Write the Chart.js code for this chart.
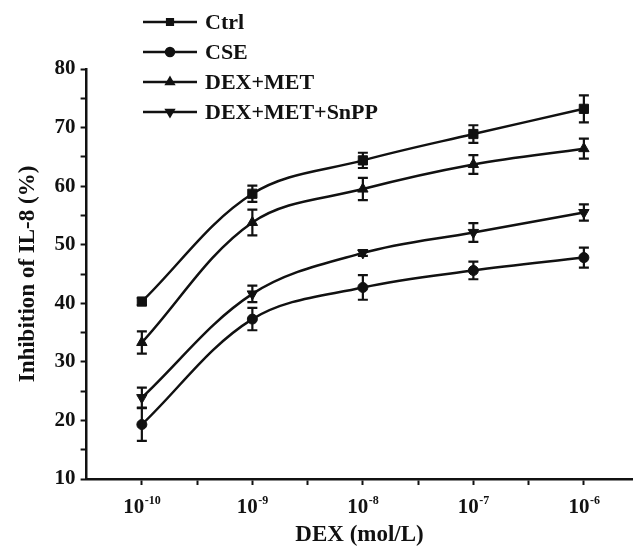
<!DOCTYPE html>
<html>
<head>
<meta charset="utf-8">
<title>Inhibition of IL-8</title>
<script src="https://cdn.jsdelivr.net/npm/chart.js@4.4.0/dist/chart.umd.min.js"></script>
<style>
    html, body { margin: 0; padding: 0; background: #fff; }
    #wrap { width: 640px; height: 547px; position: relative; }
</style>
</head>
<body>
<div id="wrap"><canvas id="il8Chart"></canvas></div>
<script>
// === Data ===
const doseBase = '10';
const doseExponents = ['-10', '-9', '-8', '-7', '-6'];
const seriesNames = ['Ctrl', 'CSE', 'DEX+MET', 'DEX+MET+SnPP'];

const ctrlMean = [40.3, 58.7, 64.4, 68.9, 73.2];
const ctrlErr = [0.6, 1.4, 1.3, 1.5, 2.3];
const cseMean = [19.3, 37.3, 42.7, 45.6, 47.8];
const cseErr = [2.8, 1.9, 2.1, 1.5, 1.7];
const dexMetMean = [33.3, 53.8, 59.5, 63.7, 66.4];
const dexMetErr = [1.9, 2.2, 1.9, 1.6, 1.7];
const snppMean = [23.9, 41.6, 48.6, 52.1, 55.5];
const snppErr = [1.7, 1.4, 0.5, 1.6, 1.4];

const yMin = 10;
const yMax = 80;

// === Styles ===
const inkColor = '#111111';
const serifFont = "'Liberation Serif', 'Times New Roman', serif";

function toPoints(values) {
    return values.map((v, i) => ({ x: i, y: v }));
}

function makeSeries(label, means, errors, pointStyle, rotation, radius) {
    return {
        label: label,
        data: toPoints(means),
        errors: errors,
        borderColor: inkColor,
        backgroundColor: inkColor,
        borderWidth: 2.5,
        tension: 0.35,
        pointStyle: pointStyle,
        pointRotation: rotation,
        pointRadius: radius,
        pointBorderWidth: 1,
        pointBackgroundColor: inkColor,
        pointBorderColor: inkColor,
    };
}

// error bars (mean ± SD) drawn through the y scale
const errorBarPlugin = {
    id: 'errorBars',
    afterDatasetsDraw(chart) {
        const ctx = chart.ctx;
        const yScale = chart.scales.y;
        ctx.save();
        ctx.strokeStyle = inkColor;
        ctx.lineWidth = 2.2;
        chart.data.datasets.forEach((ds, di) => {
            const meta = chart.getDatasetMeta(di);
            meta.data.forEach((pt, i) => {
                const v = ds.data[i].y;
                const e = ds.errors[i];
                const yTop = yScale.getPixelForValue(v + e);
                const yBot = yScale.getPixelForValue(v - e);
                ctx.beginPath();
                ctx.moveTo(pt.x, yTop); ctx.lineTo(pt.x, yBot);
                ctx.moveTo(pt.x - 5, yTop); ctx.lineTo(pt.x + 5, yTop);
                ctx.moveTo(pt.x - 5, yBot); ctx.lineTo(pt.x + 5, yBot);
                ctx.stroke();
            });
        });
        ctx.restore();
    }
};

// x tick labels as 10 with a small raised exponent
const powerLabelPlugin = {
    id: 'powerLabels',
    afterDraw(chart) {
        const ctx = chart.ctx;
        const xScale = chart.scales.x;
        const y = xScale.top + 29;
        ctx.save();
        ctx.fillStyle = inkColor;
        ctx.textBaseline = 'middle';
        ctx.textAlign = 'left';
        doseExponents.forEach((exp, i) => {
            const px = xScale.getPixelForValue(i);
            ctx.font = 'bold 21px ' + serifFont;
            const wBase = ctx.measureText(doseBase).width;
            ctx.font = 'bold 12px ' + serifFont;
            const wExp = ctx.measureText(exp).width;
            const left = px - (wBase + wExp) / 2;
            ctx.font = 'bold 21px ' + serifFont;
            ctx.fillText(doseBase, left, y);
            ctx.font = 'bold 12px ' + serifFont;
            ctx.fillText(exp, left + wBase + 0.5, y - 7);
        });
        ctx.restore();
    }
};

// legend stacked in the upper left, line with marker through it
const stackedLegendPlugin = {
    id: 'stackedLegend',
    afterDraw(chart) {
        const ctx = chart.ctx;
        const x0 = 143, x1 = 197, rowTop = 22, rowGap = 30;
        ctx.save();
        chart.data.datasets.forEach((ds, i) => {
            const y = rowTop + i * rowGap;
            ctx.strokeStyle = inkColor;
            ctx.lineWidth = 2.5;
            ctx.beginPath();
            ctx.moveTo(x0, y); ctx.lineTo(x1, y);
            ctx.stroke();
            ctx.fillStyle = inkColor;
            Chart.helpers.drawPoint(ctx, {
                pointStyle: ds.pointStyle,
                rotation: ds.pointRotation,
                radius: 4,
                borderWidth: 1
            }, (x0 + x1) / 2, y);
            ctx.fillStyle = inkColor;
            ctx.font = 'bold 22px ' + serifFont;
            ctx.textBaseline = 'middle';
            ctx.textAlign = 'left';
            ctx.fillText(ds.label, 205, y + 1);
        });
        ctx.restore();
    }
};

function loadChart() {
    const chartCtx = document.getElementById('il8Chart');
    Chart.defaults.font.family = serifFont;
    Chart.defaults.font.weight = 'bold';
    Chart.defaults.color = inkColor;

    new Chart(chartCtx, {
        type: 'line',
        data: {
            datasets: [
                makeSeries(seriesNames[0], ctrlMean, ctrlErr, 'rect', 0, 6.5),
                makeSeries(seriesNames[1], cseMean, cseErr, 'circle', 0, 5),
                makeSeries(seriesNames[2], dexMetMean, dexMetErr, 'triangle', 0, 6),
                makeSeries(seriesNames[3], snppMean, snppErr, 'triangle', 180, 6),
            ]
        },
        options: {
            responsive: true,
            maintainAspectRatio: false,
            animation: false,
            layout: { padding: { top: 69, right: 0, bottom: 0, left: 14 } },
            plugins: { legend: { display: false }, tooltip: { enabled: false } },
            scales: {
                x: {
                    type: 'linear',
                    min: -0.5,
                    max: 4.44,
                    afterBuildTicks: (scale) => {
                        scale.ticks = [0, 0.5, 1, 1.5, 2, 2.5, 3, 3.5, 4].map(v => ({ value: v }));
                    },
                    ticks: {
                        autoSkip: false,
                        maxRotation: 0,
                        padding: 0,
                        font: { size: 20, weight: 'bold' },
                        // space is kept for the labels; the powers of ten are drawn by powerLabelPlugin
                        color: 'rgba(0,0,0,0)',
                        callback: (v) => Number.isInteger(v) ? doseBase + doseExponents[v] : ''
                    },
                    grid: { drawOnChartArea: false, drawTicks: true, tickLength: 6, tickColor: inkColor, tickWidth: 2 },
                    border: { color: inkColor, width: 2.5 },
                    title: { display: true, text: 'DEX (mol/L)', font: { size: 23, weight: 'bold', lineHeight: 1 }, color: inkColor, padding: { top: 15, bottom: 0 } }
                },
                y: {
                    min: yMin,
                    max: yMax,
                    ticks: {
                        stepSize: 5,
                        padding: 5,
                        font: { size: 21, weight: 'bold' },
                        color: inkColor,
                        callback: (v) => v % 10 === 0 ? v : ''
                    },
                    grid: { drawOnChartArea: false, drawTicks: true, tickLength: 6, tickColor: inkColor, tickWidth: 2 },
                    border: { color: inkColor, width: 2.5 },
                    title: { display: true, text: 'Inhibition of IL-8 (%)', font: { size: 23, weight: 'bold' }, color: inkColor, padding: { top: 0, bottom: 8 } }
                }
            }
        },
        plugins: [errorBarPlugin, powerLabelPlugin, stackedLegendPlugin]
    });
}

loadChart();
</script>
</body>
</html>
